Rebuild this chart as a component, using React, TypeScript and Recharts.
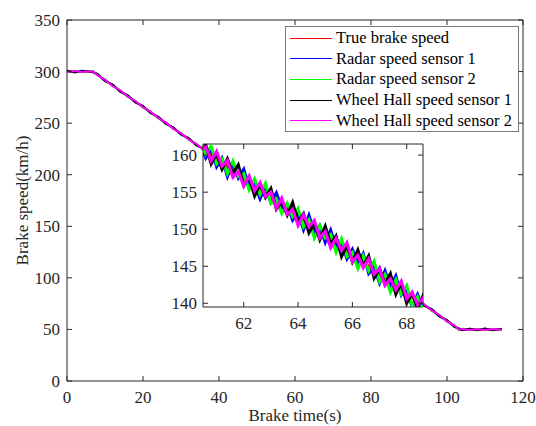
import React from 'react';
import { LineChart, Line, XAxis, YAxis, Legend, CartesianGrid, ReferenceArea, Label } from 'recharts';

// ---------- series meta ----------
const seriesNames = [
  'True brake speed',
  'Radar speed sensor 1',
  'Radar speed sensor 2',
  'Wheel Hall speed sensor 1',
  'Wheel Hall speed sensor 2',
];
const seriesKeys = ['trueSpeed', 'radar1', 'radar2', 'wheel1', 'wheel2'];
const seriesColors = ['#ff0000', '#0000ff', '#00ff00', '#000000', '#ff00ff'];

// ---------- ticks / ranges ----------
const mainXDomain = [0, 120];
const mainYDomain = [0, 350];
const mainXTicks = [0, 20, 40, 60, 80, 100, 120];
const mainYTicks = [0, 50, 100, 150, 200, 250, 300, 350];
const insetXDomain = [60.5, 68.6];
const insetYDomain = [139.5, 161.5];
const insetXTicks = [62, 64, 66, 68];
const insetYTicks = [140, 145, 150, 155, 160];

// ---------- main (whole braking) data ----------
const mainTime = [0, 2, 4, 6.8, 8, 10, 12, 14, 16, 18, 20, 22, 24, 26, 28, 30, 32, 34, 36, 40, 50, 60, 70, 80, 90, 94, 96, 98, 100, 102, 103.2, 104, 106, 108, 110, 112, 114.4];
const mainTrue = [300, 300, 300, 300, 296.9, 291.7, 286.5, 281.3, 276.1, 271.0, 265.8, 260.6, 255.4, 250.2, 245.0, 239.8, 234.7, 229.5, 224.3, 213.9, 188.0, 162.1, 136.1, 110.2, 84.3, 73.9, 68.7, 63.5, 58.3, 53.2, 50, 50, 50, 50, 50, 50, 50];
const mainRadar1 = [300.6, 299.5, 300.8, 299.4, 297.5, 291.0, 287.2, 280.7, 276.8, 270.3, 266.4, 259.9, 256.0, 249.6, 245.7, 239.1, 235.3, 228.8, 225.0, 213.2, 188.6, 161.4, 136.8, 109.5, 84.9, 73.2, 69.4, 62.8, 58.9, 52.5, 50.7, 49.4, 50.6, 49.5, 50.7, 49.4, 50.5];
const mainRadar2 = [299.4, 300.7, 299.3, 300.6, 296.2, 292.4, 285.8, 282.0, 275.5, 271.7, 265.1, 261.3, 254.7, 250.9, 244.3, 240.5, 234.0, 230.2, 223.6, 214.6, 187.3, 162.8, 135.4, 110.9, 83.6, 74.6, 68.0, 64.2, 57.6, 53.9, 49.3, 50.6, 49.4, 50.7, 49.3, 50.6, 49.5];
const mainWheel1 = [300.9, 299.2, 300.5, 299.6, 297.8, 290.9, 287.4, 280.5, 276.9, 270.2, 266.6, 259.8, 256.2, 249.4, 245.8, 239.0, 235.5, 228.7, 225.1, 213.0, 188.9, 161.2, 136.9, 109.3, 85.1, 73.0, 69.5, 62.7, 59.1, 52.4, 50.8, 49.3, 50.7, 49.2, 50.8, 49.3, 50.6];
const mainWheel2 = [299.6, 300.5, 299.5, 300.4, 296.5, 292.2, 286.0, 281.8, 275.7, 271.5, 265.3, 261.1, 254.9, 250.7, 244.5, 240.3, 234.2, 230.0, 223.8, 214.4, 187.5, 162.6, 135.6, 110.7, 83.8, 74.4, 68.2, 64.0, 57.8, 53.7, 49.5, 50.5, 49.5, 50.5, 49.4, 50.5, 49.6];

// ---------- inset (zoomed 60.5 - 68.6 s) data ----------
const insetTime = [60.4, 60.6, 60.8, 61.0, 61.2, 61.4, 61.6, 61.8, 62.0, 62.2, 62.4, 62.6, 62.8, 63.0, 63.2, 63.4, 63.6, 63.8, 64.0, 64.2, 64.4, 64.6, 64.8, 65.0, 65.2, 65.4, 65.6, 65.8, 66.0, 66.2, 66.4, 66.6, 66.8, 67.0, 67.2, 67.4, 67.6, 67.8, 68.0, 68.2, 68.4, 68.6, 68.8];
const insetTrue = [161.0, 160.5, 160.0, 159.5, 159.0, 158.4, 157.9, 157.4, 156.9, 156.4, 155.8, 155.3, 154.8, 154.3, 153.8, 153.3, 152.7, 152.2, 151.7, 151.2, 150.7, 150.2, 149.6, 149.1, 148.6, 148.1, 147.6, 147.1, 146.5, 146.0, 145.5, 145.0, 144.5, 143.9, 143.4, 142.9, 142.4, 141.9, 141.4, 140.8, 140.3, 139.8, 139.3];
const insetRadar1 = [161.4, 159.6, 160.8, 158.4, 159.6, 157.1, 158.9, 156.9, 158.1, 155.6, 156.1, 154.1, 155.7, 153.6, 154.9, 152.9, 153.4, 151.2, 152.2, 149.9, 151.9, 149.6, 150.5, 148.2, 149.9, 147.6, 148.2, 146.0, 147.3, 145.3, 146.7, 144.0, 144.9, 142.7, 144.4, 142.3, 143.7, 141.1, 142.1, 139.5, 141.2, 139.4, 139.5];
const insetRadar2 = [162.0, 160.1, 161.2, 158.8, 159.5, 157.5, 159.2, 157.1, 157.5, 155.3, 156.8, 154.7, 156.2, 153.5, 154.1, 152.1, 153.5, 151.7, 152.8, 150.3, 151.3, 148.8, 150.5, 148.8, 149.3, 146.9, 148.7, 146.3, 146.9, 144.7, 146.4, 144.4, 145.7, 142.9, 143.9, 141.5, 143.2, 141.2, 142.4, 139.7, 140.9, 139.0, 139.6];
const insetWheel1 = [160.4, 161.4, 158.8, 160.2, 158.1, 159.5, 157.5, 158.7, 155.9, 157.0, 154.5, 156.1, 154.3, 155.5, 152.7, 153.8, 151.9, 153.6, 151.0, 152.1, 149.5, 150.8, 148.6, 150.4, 148.0, 149.1, 146.3, 147.8, 145.6, 147.2, 145.0, 146.4, 143.4, 144.7, 142.6, 144.0, 141.2, 142.8, 140.0, 141.4, 139.3, 141.0, 139.0];
const insetWheel2 = [160.7, 161.1, 159.2, 160.5, 158.5, 159.3, 157.0, 157.8, 155.8, 157.2, 155.2, 156.3, 154.4, 155.0, 152.8, 154.2, 152.0, 152.7, 150.5, 152.0, 150.3, 151.2, 148.8, 149.7, 147.5, 148.8, 147.1, 148.2, 145.6, 146.5, 144.8, 146.0, 143.9, 144.7, 142.4, 143.3, 141.8, 143.0, 140.6, 141.5, 139.8, 140.7, 139.1];

const buildRows = (time: number[], cols: number[][]) =>
  time.map((t, i) => {
    const row: Record<string, number> = { t };
    seriesKeys.forEach((k, j) => {
      row[k] = cols[j][i];
    });
    return row;
  });

const mainRows = buildRows(mainTime, [mainTrue, mainRadar1, mainRadar2, mainWheel1, mainWheel2]);
const insetRows = buildRows(insetTime, [insetTrue, insetRadar1, insetRadar2, insetWheel1, insetWheel2]);

const FONT = '"Liberation Serif"';
const AX = '#262626';
const TICK_LEN = 5;

// chart geometry (plot sizes follow from width/height/margins/axis sizes)
const MAIN = { w: 536, h: 426, top: 20, right: 13, yAxisW: 67, xAxisH: 45 };
const MAIN_PLOT_W = MAIN.w - MAIN.yAxisW - MAIN.right;
const MAIN_PLOT_H = MAIN.h - MAIN.top - MAIN.xAxisH;
const INSET = { w: 283, h: 207, top: 14, right: 10, yAxisW: 53, xAxisH: 30 };
const INSET_PLOT_W = INSET.w - INSET.yAxisW - INSET.right;
const INSET_PLOT_H = INSET.h - INSET.top - INSET.xAxisH;

// bottom tick: inward mark at bottom and top of the box + label
const makeXTick = (plotH: number) => (p: any) => (
  <g>
    <path
      d={`M${p.x},${p.y}v${-TICK_LEN}M${p.x},${p.y - plotH}v${TICK_LEN}`}
      stroke={AX}
      strokeWidth={1}
      fill="none"
    />
    <text x={p.x} y={p.y + 10} dy="0.71em" textAnchor="middle" fill={AX} fontSize={17} style={{ fontFamily: FONT }}>
      {p.payload.value}
    </text>
  </g>
);

// left tick: inward mark at left and right of the box + label
const makeYTick = (plotW: number, gap: number) => (p: any) => (
  <g>
    <path
      d={`M${p.x},${p.y}h${TICK_LEN}M${p.x + plotW},${p.y}h${-TICK_LEN}`}
      stroke={AX}
      strokeWidth={1}
      fill="none"
    />
    <text x={p.x - gap} y={p.y} dy="0.355em" textAnchor="end" fill={AX} fontSize={17} style={{ fontFamily: FONT }}>
      {p.payload.value}
    </text>
  </g>
);

const MainXTick = makeXTick(MAIN_PLOT_H);
const MainYTick = makeYTick(MAIN_PLOT_W, 7);
const InsetXTick = makeXTick(INSET_PLOT_H);
const InsetYTick = makeYTick(INSET_PLOT_W, 6);

const LegendBox = () => (
  <div
    style={{
      boxSizing: 'border-box',
      width: 234,
      height: 106,
      border: '1px solid #7a7a7a',
      background: '#fff',
      padding: '1px 0 0 4px',
      fontFamily: FONT,
      fontSize: 16.5,
      color: '#000',
    }}
  >
    {seriesNames.map((name, i) => (
      <div key={name} style={{ display: 'flex', alignItems: 'center', height: 20.6, whiteSpace: 'nowrap' }}>
        <span style={{ display: 'inline-block', width: 42, height: 0, borderTop: `1.5px solid ${seriesColors[i]}`, marginRight: 4 }} />
        <span>{name}</span>
      </div>
    ))}
  </div>
);

const YLabel = (props: any) => {
  const vb = props.viewBox || { x: 0, y: 0, width: 0, height: 0 };
  const cx = vb.x + 28;
  const cy = vb.y + vb.height / 2;
  return (
    <text x={cx} y={cy} transform={`rotate(-90 ${cx} ${cy})`} textAnchor="middle" fill={AX} fontSize={17} style={{ fontFamily: FONT }}>
      Brake speed(km/h)
    </text>
  );
};

export default function App() {
  return (
    <div style={{ position: 'absolute', left: 0, top: 0, width: 536, height: 426, background: '#fff', overflow: 'hidden' }}>
      <div style={{ position: 'absolute', left: 0, top: 0 }}>
        <LineChart width={MAIN.w} height={MAIN.h} data={mainRows} margin={{ top: MAIN.top, right: MAIN.right, bottom: 0, left: 0 }}>
          <XAxis
            type="number"
            dataKey="t"
            domain={mainXDomain}
            ticks={mainXTicks}
            interval={0}
            height={MAIN.xAxisH}
            tickSize={0}
            tickMargin={0}
            axisLine={false}
            tickLine={false}
            tick={<MainXTick />}
          >
            <Label value="Brake time(s)" position="insideBottom" offset={5} fill={AX} fontSize={17} style={{ fontFamily: FONT }} />
          </XAxis>
          <YAxis
            type="number"
            domain={mainYDomain}
            ticks={mainYTicks}
            interval={0}
            width={MAIN.yAxisW}
            tickSize={0}
            tickMargin={0}
            axisLine={false}
            tickLine={false}
            tick={<MainYTick />}
          >
            <Label content={<YLabel />} />
          </YAxis>
          {seriesKeys.map((k, i) => (
            <Line
              key={k}
              type="linear"
              dataKey={k}
              name={seriesNames[i]}
              stroke={seriesColors[i]}
              strokeWidth={2}
              dot={false}
              activeDot={false}
              isAnimationActive={false}
            />
          ))}
          <ReferenceArea
            x1={mainXDomain[0]}
            x2={mainXDomain[1]}
            y1={mainYDomain[0]}
            y2={mainYDomain[1]}
            fill="none"
            fillOpacity={0}
            stroke={AX}
            strokeWidth={1}
          />
          <Legend
            layout="horizontal"
            verticalAlign="middle"
            align="center"
            content={<LegendBox />}
            wrapperStyle={{ left: 285, top: 26, width: 234, height: 106 }}
          />
        </LineChart>
      </div>

      <div style={{ position: 'absolute', left: 150, top: 130 }}>
        <LineChart width={INSET.w} height={INSET.h} data={insetRows} margin={{ top: INSET.top, right: INSET.right, bottom: 0, left: 0 }}>
          <CartesianGrid fill="#fff" stroke="none" horizontal={false} vertical={false} />
          <XAxis
            type="number"
            dataKey="t"
            domain={insetXDomain}
            allowDataOverflow
            ticks={insetXTicks}
            interval={0}
            height={INSET.xAxisH}
            tickSize={0}
            tickMargin={0}
            axisLine={false}
            tickLine={false}
            tick={<InsetXTick />}
          />
          <YAxis
            type="number"
            domain={insetYDomain}
            allowDataOverflow
            ticks={insetYTicks}
            interval={0}
            width={INSET.yAxisW}
            tickSize={0}
            tickMargin={0}
            axisLine={false}
            tickLine={false}
            tick={<InsetYTick />}
          />
          {seriesKeys.map((k, i) => (
            <Line
              key={k}
              type="linear"
              dataKey={k}
              name={seriesNames[i]}
              stroke={seriesColors[i]}
              strokeWidth={3}
              dot={false}
              activeDot={false}
              isAnimationActive={false}
            />
          ))}
          <ReferenceArea
            x1={insetXDomain[0]}
            x2={insetXDomain[1]}
            y1={insetYDomain[0]}
            y2={insetYDomain[1]}
            fill="none"
            fillOpacity={0}
            stroke={AX}
            strokeWidth={1}
          />
        </LineChart>
      </div>
    </div>
  );
}
